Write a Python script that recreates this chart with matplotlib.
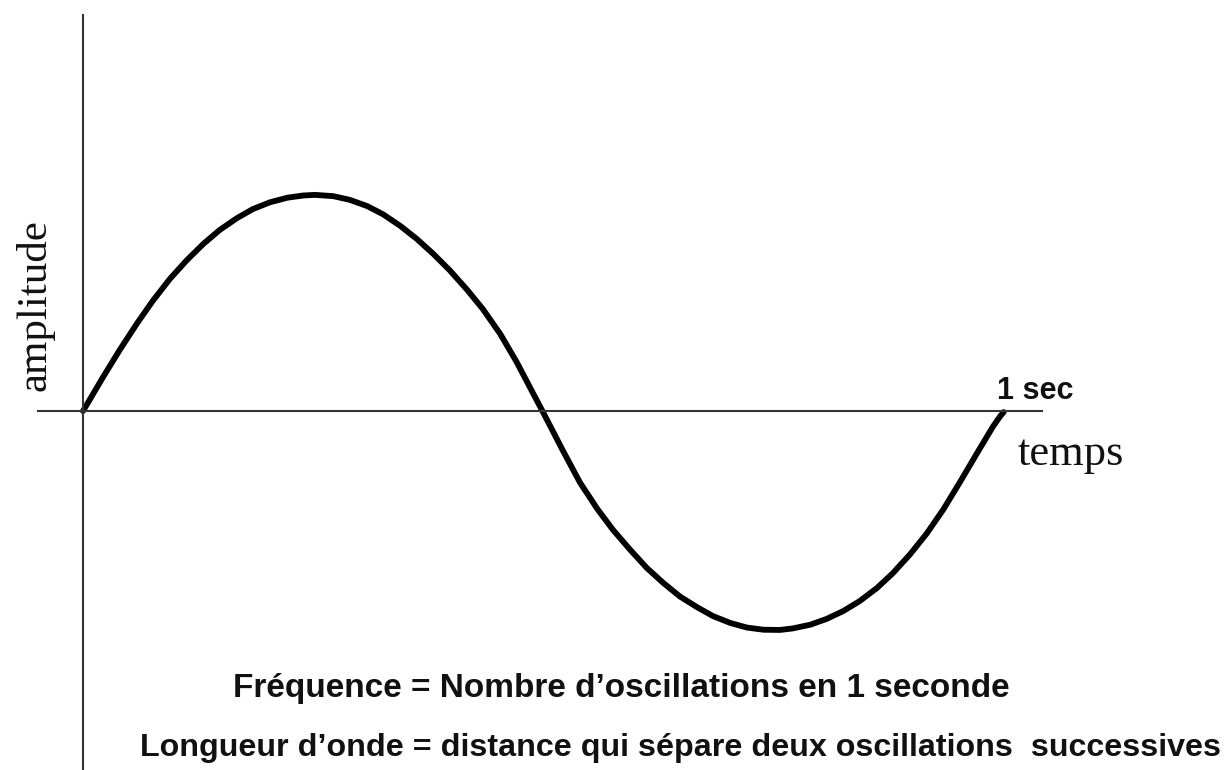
import matplotlib.pyplot as plt

# ------ Curve: time (s) and amplitude (peak = 1) ------
temps = [0.0, 0.002, 0.022, 0.040, 0.059, 0.076, 0.095, 0.113, 0.131, 0.149,
         0.168, 0.185, 0.204, 0.223, 0.240, 0.253, 0.273, 0.291, 0.310, 0.327,
         0.346, 0.364, 0.382, 0.400, 0.419, 0.436, 0.455, 0.473, 0.491, 0.501,
         0.513, 0.523, 0.542, 0.561, 0.578, 0.597, 0.615, 0.633, 0.651, 0.670,
         0.687, 0.706, 0.724, 0.742, 0.760, 0.774, 0.793, 0.811, 0.829, 0.847,
         0.866, 0.883, 0.902, 0.920, 0.938, 0.956, 0.975, 0.992, 1.0, 1.004]
amplitude = [0.0, 0.014, 0.157, 0.281, 0.404, 0.507, 0.610, 0.694, 0.769, 0.834,
             0.889, 0.930, 0.962, 0.983, 0.993, 0.996, 0.990, 0.973, 0.944, 0.907,
             0.853, 0.793, 0.724, 0.648, 0.558, 0.470, 0.355, 0.225, 0.080, 0.0,
             -0.098, -0.180, -0.330, -0.452, -0.548, -0.641, -0.724, -0.793, -0.855, -0.905,
             -0.945, -0.977, -0.998, -1.008, -1.009, -1.002, -0.985, -0.958, -0.922, -0.876,
             -0.815, -0.748, -0.660, -0.565, -0.455, -0.330, -0.194, -0.074, -0.025, -0.005]

titre_x = 'temps'
titre_y = 'amplitude'
repere = '1 sec'
ligne1 = 'Fréquence = Nombre d’oscillations en 1 seconde'
ligne2 = 'Longueur d’onde = distance qui sépare deux oscillations  successives'

# ------ Set up figure layout --------
fig = plt.figure(figsize=(12.3, 7.7), dpi=100)
ax = fig.add_axes([0, 0, 1, 1])
ax.set_xlim(-0.0905, 1.2508)
ax.set_ylim(-1.6544, 1.894)

# axes through the origin, drawn as spines
for side in ['top', 'right']:
    ax.spines[side].set_visible(False)
ax.spines['left'].set_position(('data', 0))
ax.spines['bottom'].set_position(('data', 0))
ax.spines['left'].set_bounds(-1.66, 1.825)
ax.spines['bottom'].set_bounds(-0.049, 1.046)
for side in ['left', 'bottom']:
    ax.spines[side].set_linewidth(1.5)
    ax.spines[side].set_color('#333333')
ax.set_xticks([])
ax.set_yticks([])

# ----- Add data -----
ax.plot(temps, amplitude, color='black', lw=4.2,
        solid_capstyle='round', solid_joinstyle='round')

# ------ Labels --------
serif = 'Liberation Serif'
sans = 'Liberation Sans'
ax.text(-0.0523, 0.488, titre_y, rotation=90, ha='center', va='center',
        fontsize=31, family=serif, color='#111111')
ax.text(1.0196, -0.249, titre_x, ha='left', va='baseline',
        fontsize=32, family=serif, color='#111111')
ax.text(0.9967, 0.0553, repere, ha='left', va='baseline',
        fontsize=22, family=sans, weight='bold', color='#111111')
ax.text(0.1636, -1.318, ligne1, ha='left', va='baseline',
        fontsize=24, family=sans, weight='bold', color='#111111')
ax.text(0.0622, -1.590, ligne2, ha='left', va='baseline',
        fontsize=23.2, family=sans, weight='bold', color='#111111')

plt.savefig('out.png', dpi=100)
